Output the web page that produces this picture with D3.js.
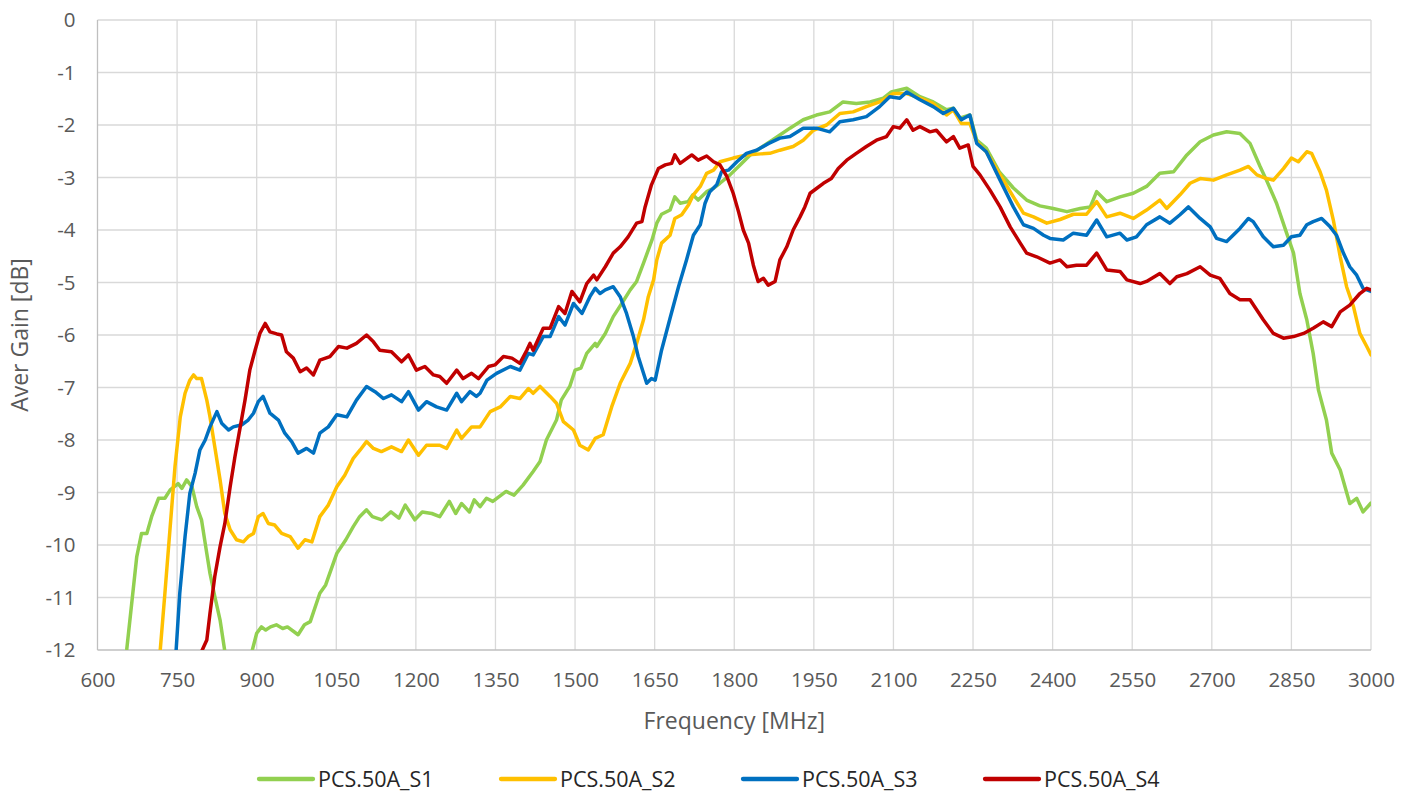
<!DOCTYPE html>
<html>
<head>
<meta charset="utf-8">
<script src="https://cdn.jsdelivr.net/npm/d3@7"></script>
<style>
  body { margin: 0; background: #fff; }
  svg { display: block; font-family: "Open Sans", "Liberation Sans", sans-serif; }
</style>
</head>
<body>
<script>
// Series names and colours
var seriesNames = ["PCS.50A_S1", "PCS.50A_S2", "PCS.50A_S3", "PCS.50A_S4"];
var seriesColors = ["#92D050", "#FFC000", "#0070C0", "#C00000"];

// Tick values
var xTicks = [600, 750, 900, 1050, 1200, 1350, 1500, 1650, 1800, 1950, 2100, 2250, 2400, 2550, 2700, 2850, 3000];
var yTicks = [0, -1, -2, -3, -4, -5, -6, -7, -8, -9, -10, -11, -12];

// [frequency MHz, average gain dB]
var s1 = [[650,-12.3],[655,-12.0],[674,-10.22],[683,-9.78],[693,-9.78],[702,-9.46],[715,-9.11],[727,-9.11],[737,-8.95],[752,-8.83],[759,-8.92],[768,-8.76],[778,-8.89],[787,-9.27],[796,-9.52],[806,-10.16],[812,-10.54],[821,-10.98],[831,-11.43],[840,-12.03],[865,-12.6],[891,-12.03],[900,-11.68],[909,-11.56],[917,-11.62],[926,-11.56],[937,-11.52],[949,-11.59],[958,-11.56],[978,-11.71],[990,-11.52],[1001,-11.46],[1019,-10.92],[1030,-10.76],[1051,-10.16],[1068,-9.9],[1082,-9.65],[1094,-9.46],[1107,-9.33],[1118,-9.46],[1136,-9.52],[1153,-9.37],[1168,-9.49],[1180,-9.24],[1198,-9.52],[1212,-9.37],[1230,-9.4],[1245,-9.46],[1263,-9.17],[1275,-9.4],[1286,-9.21],[1301,-9.37],[1310,-9.14],[1321,-9.27],[1333,-9.11],[1345,-9.17],[1370,-8.98],[1385,-9.05],[1402,-8.86],[1421,-8.6],[1434,-8.41],[1446,-8.0],[1465,-7.62],[1474,-7.24],[1490,-6.98],[1500,-6.67],[1511,-6.63],[1522,-6.35],[1538,-6.16],[1541,-6.22],[1557,-5.97],[1572,-5.65],[1588,-5.4],[1604,-5.14],[1616,-4.98],[1629,-4.63],[1645,-4.19],[1654,-3.87],[1663,-3.7],[1679,-3.62],[1688,-3.37],[1698,-3.49],[1713,-3.46],[1722,-3.33],[1732,-3.43],[1748,-3.27],[1760,-3.21],[1773,-3.11],[1792,-2.95],[1811,-2.76],[1830,-2.57],[1855,-2.4],[1870,-2.3],[1886,-2.19],[1905,-2.06],[1930,-1.9],[1955,-1.81],[1980,-1.75],[2005,-1.56],[2030,-1.59],[2056,-1.56],[2081,-1.49],[2096,-1.37],[2125,-1.3],[2150,-1.46],[2175,-1.56],[2200,-1.71],[2213,-1.68],[2225,-1.87],[2244,-1.81],[2257,-2.29],[2275,-2.44],[2300,-2.9],[2326,-3.2],[2351,-3.43],[2376,-3.54],[2401,-3.59],[2427,-3.65],[2452,-3.59],[2471,-3.56],[2483,-3.27],[2502,-3.46],[2527,-3.37],[2552,-3.3],[2577,-3.17],[2602,-2.92],[2628,-2.89],[2653,-2.57],[2678,-2.32],[2703,-2.19],[2728,-2.13],[2753,-2.16],[2772,-2.35],[2791,-2.79],[2803,-3.05],[2822,-3.49],[2841,-4.06],[2854,-4.44],[2866,-5.21],[2879,-5.71],[2891,-6.35],[2901,-7.05],[2916,-7.62],[2926,-8.25],[2942,-8.57],[2960,-9.21],[2973,-9.11],[2985,-9.37],[3000,-9.2]];

var s2 = [[712,-12.4],[718,-12.03],[727,-10.92],[737,-9.65],[746,-8.51],[756,-7.56],[765,-7.11],[774,-6.86],[781,-6.76],[787,-6.83],[796,-6.83],[806,-7.24],[812,-7.56],[821,-8.13],[831,-8.76],[840,-9.4],[850,-9.71],[862,-9.9],[875,-9.94],[884,-9.84],[894,-9.78],[903,-9.46],[912,-9.4],[922,-9.59],[934,-9.62],[947,-9.78],[963,-9.84],[978,-10.06],[991,-9.9],[1004,-9.94],[1019,-9.46],[1035,-9.24],[1051,-8.89],[1066,-8.67],[1082,-8.35],[1095,-8.19],[1107,-8.03],[1120,-8.16],[1135,-8.22],[1154,-8.13],[1173,-8.22],[1186,-8.0],[1205,-8.29],[1220,-8.1],[1245,-8.1],[1258,-8.16],[1277,-7.81],[1286,-7.97],[1305,-7.75],[1321,-7.75],[1340,-7.46],[1359,-7.37],[1378,-7.17],[1396,-7.21],[1412,-7.02],[1421,-7.11],[1434,-6.98],[1453,-7.17],[1465,-7.3],[1478,-7.65],[1497,-7.81],[1509,-8.1],[1525,-8.19],[1538,-7.97],[1553,-7.9],[1569,-7.37],[1585,-6.92],[1604,-6.54],[1616,-6.16],[1629,-5.71],[1638,-5.27],[1648,-4.95],[1654,-4.57],[1663,-4.25],[1679,-4.1],[1688,-3.78],[1701,-3.71],[1714,-3.52],[1723,-3.33],[1736,-3.17],[1748,-2.92],[1761,-2.86],[1773,-2.7],[1798,-2.63],[1823,-2.57],[1850,-2.55],[1867,-2.54],[1886,-2.48],[1911,-2.41],[1930,-2.29],[1949,-2.1],[1974,-2.0],[1999,-1.78],[2024,-1.75],[2049,-1.65],[2074,-1.56],[2100,-1.4],[2125,-1.4],[2150,-1.49],[2175,-1.59],[2200,-1.81],[2213,-1.71],[2228,-1.97],[2244,-1.97],[2257,-2.32],[2275,-2.51],[2300,-2.93],[2326,-3.37],[2345,-3.68],[2364,-3.75],[2389,-3.87],[2414,-3.8],[2439,-3.7],[2464,-3.7],[2483,-3.46],[2502,-3.75],[2527,-3.68],[2552,-3.78],[2577,-3.62],[2602,-3.43],[2615,-3.59],[2640,-3.33],[2659,-3.11],[2678,-3.02],[2703,-3.05],[2728,-2.95],[2753,-2.86],[2769,-2.79],[2785,-2.95],[2803,-3.02],[2816,-3.05],[2835,-2.83],[2850,-2.63],[2863,-2.7],[2879,-2.51],[2888,-2.54],[2904,-2.89],[2916,-3.24],[2929,-3.81],[2942,-4.51],[2954,-5.08],[2967,-5.46],[2979,-5.97],[2992,-6.22],[3000,-6.38]];

var s3 = [[744,-12.4],[748,-12.03],[755,-10.92],[765,-9.84],[774,-9.02],[784,-8.63],[793,-8.19],[803,-8.0],[812,-7.75],[825,-7.46],[834,-7.68],[847,-7.81],[856,-7.75],[872,-7.71],[884,-7.62],[894,-7.49],[903,-7.27],[912,-7.17],[925,-7.49],[941,-7.62],[953,-7.87],[966,-8.03],[978,-8.25],[994,-8.16],[1007,-8.25],[1019,-7.87],[1035,-7.75],[1051,-7.52],[1070,-7.56],[1088,-7.24],[1107,-6.98],[1123,-7.08],[1139,-7.21],[1154,-7.14],[1173,-7.27],[1186,-7.08],[1205,-7.43],[1220,-7.27],[1239,-7.37],[1258,-7.43],[1277,-7.11],[1286,-7.27],[1302,-7.08],[1314,-7.17],[1321,-7.11],[1334,-6.86],[1352,-6.73],[1378,-6.6],[1396,-6.67],[1412,-6.35],[1421,-6.38],[1440,-6.03],[1453,-6.03],[1469,-5.65],[1481,-5.81],[1497,-5.4],[1513,-5.59],[1528,-5.27],[1538,-5.11],[1547,-5.21],[1557,-5.14],[1572,-5.08],[1585,-5.27],[1597,-5.59],[1610,-6.03],[1619,-6.41],[1629,-6.73],[1635,-6.92],[1644,-6.83],[1651,-6.86],[1663,-6.29],[1679,-5.68],[1695,-5.08],[1710,-4.57],[1723,-4.1],[1736,-3.9],[1745,-3.49],[1754,-3.27],[1767,-3.14],[1776,-2.89],[1789,-2.86],[1805,-2.7],[1823,-2.54],[1842,-2.48],[1865,-2.35],[1886,-2.25],[1905,-2.22],[1930,-2.06],[1955,-2.06],[1980,-2.13],[1999,-1.94],[2024,-1.9],[2049,-1.84],[2074,-1.65],[2093,-1.46],[2112,-1.49],[2125,-1.37],[2150,-1.52],[2175,-1.65],[2194,-1.78],[2213,-1.68],[2228,-1.9],[2244,-1.81],[2257,-2.35],[2275,-2.51],[2301,-3.05],[2326,-3.56],[2345,-3.9],[2364,-3.97],[2383,-4.1],[2395,-4.16],[2420,-4.19],[2439,-4.06],[2464,-4.1],[2483,-3.81],[2502,-4.13],[2527,-4.06],[2540,-4.19],[2558,-4.13],[2577,-3.9],[2602,-3.75],[2621,-3.87],[2640,-3.71],[2656,-3.56],[2678,-3.78],[2697,-3.94],[2709,-4.16],[2728,-4.22],[2753,-3.97],[2769,-3.78],[2778,-3.84],[2797,-4.13],[2816,-4.32],[2835,-4.29],[2850,-4.13],[2866,-4.1],[2879,-3.9],[2891,-3.84],[2907,-3.78],[2923,-3.94],[2935,-4.1],[2948,-4.44],[2960,-4.7],[2973,-4.86],[2985,-5.11],[3000,-5.17]];

var s4 = [[792,-12.4],[796,-12.03],[806,-11.81],[812,-11.3],[821,-10.6],[831,-10.03],[840,-9.59],[850,-8.89],[859,-8.32],[869,-7.75],[878,-7.24],[887,-6.67],[897,-6.29],[906,-5.97],[916,-5.78],[925,-5.94],[938,-5.98],[947,-6.0],[956,-6.32],[969,-6.44],[982,-6.7],[994,-6.63],[1007,-6.76],[1019,-6.48],[1038,-6.41],[1054,-6.22],[1070,-6.25],[1088,-6.16],[1107,-6.0],[1120,-6.13],[1132,-6.29],[1154,-6.32],[1173,-6.51],[1186,-6.38],[1201,-6.67],[1217,-6.6],[1233,-6.76],[1245,-6.79],[1258,-6.92],[1277,-6.67],[1289,-6.83],[1305,-6.73],[1318,-6.83],[1337,-6.6],[1349,-6.57],[1365,-6.41],[1381,-6.44],[1396,-6.54],[1409,-6.29],[1415,-6.16],[1421,-6.29],[1440,-5.87],[1453,-5.87],[1469,-5.46],[1481,-5.59],[1494,-5.17],[1509,-5.37],[1522,-5.02],[1535,-4.86],[1541,-4.95],[1557,-4.7],[1572,-4.44],[1585,-4.32],[1600,-4.13],[1616,-3.87],[1626,-3.84],[1632,-3.56],[1644,-3.14],[1657,-2.83],[1670,-2.76],[1682,-2.73],[1688,-2.57],[1698,-2.73],[1720,-2.57],[1732,-2.67],[1748,-2.59],[1761,-2.7],[1773,-2.76],[1786,-2.98],[1798,-3.3],[1808,-3.65],[1817,-4.0],[1827,-4.25],[1836,-4.67],[1845,-4.98],[1855,-4.92],[1864,-5.05],[1877,-4.98],[1886,-4.57],[1899,-4.32],[1911,-4.0],[1924,-3.75],[1933,-3.56],[1943,-3.3],[1955,-3.21],[1968,-3.11],[1983,-3.02],[1996,-2.83],[2012,-2.67],[2030,-2.54],[2049,-2.41],[2068,-2.29],[2087,-2.22],[2100,-2.03],[2112,-2.06],[2125,-1.9],[2137,-2.1],[2150,-2.03],[2169,-2.13],[2181,-2.1],[2200,-2.32],[2213,-2.22],[2225,-2.44],[2241,-2.38],[2250,-2.79],[2263,-2.95],[2282,-3.24],[2301,-3.56],[2320,-3.94],[2339,-4.25],[2351,-4.44],[2370,-4.51],[2395,-4.63],[2414,-4.57],[2427,-4.7],[2445,-4.67],[2464,-4.67],[2483,-4.44],[2502,-4.76],[2527,-4.79],[2540,-4.95],[2565,-5.02],[2577,-4.98],[2602,-4.83],[2621,-5.02],[2634,-4.89],[2653,-4.83],[2678,-4.7],[2697,-4.86],[2715,-4.92],[2734,-5.21],[2753,-5.33],[2772,-5.33],[2797,-5.71],[2816,-5.97],[2835,-6.06],[2854,-6.03],[2873,-5.97],[2891,-5.87],[2910,-5.75],[2926,-5.84],[2942,-5.56],[2960,-5.43],[2979,-5.21],[2992,-5.11],[3000,-5.14]];

var allSeries = [s1, s2, s3, s4];

var width = 1412,
    height = 792,
    margin = { top: 20, right: 41, bottom: 142, left: 97.5 };

var svg = d3.select("body").append("svg")
    .attr("width", width)
    .attr("height", height);

var x = d3.scaleLinear()
    .domain([600, 3000])
    .range([margin.left, width - margin.right]);

var y = d3.scaleLinear()
    .domain([-12, 0])
    .range([height - margin.bottom, margin.top]);

// clip so lines going below -12 are cut at the axis
svg.append("clipPath")
    .attr("id", "plot-clip")
  .append("rect")
    .attr("x", margin.left)
    .attr("y", margin.top)
    .attr("width", x(3000) - x(600))
    .attr("height", y(-12) - y(0));

// Gridlines
svg.append("g")
    .selectAll("line")
    .data(xTicks.slice(1))
    .join("line")
    .attr("x1", d => x(d)).attr("x2", d => x(d))
    .attr("y1", y(0)).attr("y2", y(-12))
    .attr("stroke", "#d9d9d9")
    .attr("stroke-width", 1.3);

svg.append("g")
    .selectAll("line")
    .data(yTicks.slice(0, -1))
    .join("line")
    .attr("x1", x(600)).attr("x2", x(3000))
    .attr("y1", d => y(d)).attr("y2", d => y(d))
    .attr("stroke", "#d9d9d9")
    .attr("stroke-width", 1.3);

// axis lines
svg.append("line")
    .attr("x1", x(600)).attr("x2", x(600))
    .attr("y1", y(0)).attr("y2", y(-12))
    .attr("stroke", "#bfbfbf").attr("stroke-width", 1.3);
svg.append("line")
    .attr("x1", x(600)).attr("x2", x(3000))
    .attr("y1", y(-12)).attr("y2", y(-12))
    .attr("stroke", "#bfbfbf").attr("stroke-width", 1.3);

// Tick labels (plain hyphen minus, no thousands separator)
var xAxis = d3.axisBottom(x).tickValues(xTicks).tickSize(0).tickPadding(22)
    .tickFormat(d => String(d));
svg.append("g")
    .attr("transform", `translate(0,${y(-12)})`)
    .call(xAxis)
    .call(g => g.select(".domain").remove())
    .selectAll("text")
    .attr("fill", "#595959")
    .style("font-size", "20.5px")
    .style("font-family", "'Open Sans', sans-serif");

var yAxis = d3.axisLeft(y).tickValues(yTicks).tickSize(0).tickPadding(22)
    .tickFormat(d => String(d));
svg.append("g")
    .attr("transform", `translate(${x(600)},0)`)
    .call(yAxis)
    .call(g => g.select(".domain").remove())
    .selectAll("text")
    .attr("fill", "#595959")
    .style("font-size", "20.5px")
    .style("font-family", "'Open Sans', sans-serif");

// Axis titles
svg.append("text")
    .attr("x", (x(600) + x(3000)) / 2)
    .attr("y", 729)
    .attr("text-anchor", "middle")
    .attr("fill", "#595959")
    .style("font-size", "23px")
    .text("Frequency [MHz]");

svg.append("text")
    .attr("transform", `translate(28,${(y(0) + y(-12)) / 2}) rotate(-90)`)
    .attr("text-anchor", "middle")
    .attr("fill", "#595959")
    .style("font-size", "23px")
    .text("Aver Gain [dB]");

// Lines
var line = d3.line()
    .x(d => x(d[0]))
    .y(d => y(d[1]));

svg.append("g")
    .attr("clip-path", "url(#plot-clip)")
    .selectAll("path")
    .data(allSeries)
    .join("path")
    .attr("fill", "none")
    .attr("stroke", (d, i) => seriesColors[i])
    .attr("stroke-width", 3.5)
    .attr("stroke-linejoin", "round")
    .attr("stroke-linecap", "round")
    .attr("d", line);

// Legend
var legend = svg.append("g")
    .selectAll("g")
    .data(seriesNames)
    .join("g")
    .attr("transform", (d, i) => `translate(${259 + i * 242},779)`);

legend.append("line")
    .attr("x1", 0).attr("x2", 54)
    .attr("stroke", (d, i) => seriesColors[i])
    .attr("stroke-width", 4.3)
    .attr("stroke-linecap", "round");

legend.append("text")
    .attr("x", 59)
    .attr("dy", "0.35em")
    .attr("fill", "#262626")
    .style("font-size", "21.5px")
    .text(d => d);
</script>
</body>
</html>
